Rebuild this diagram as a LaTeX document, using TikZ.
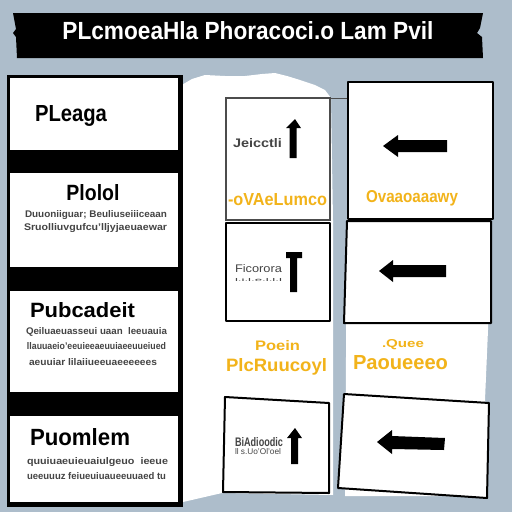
\documentclass[tikz,border=0pt]{standalone}
\usepackage{fontspec}
\setmainfont{Liberation Sans}
\usepackage{graphicx}
\definecolor{bgray}{HTML}{ADBDCB}
\definecolor{gold}{HTML}{F2B31A}
\definecolor{gtext}{HTML}{444444}
\newcommand{\fitbox}[3]{\resizebox{#1}{#2}{#3}}
\begin{document}
\begin{tikzpicture}[x=1pt,y=-1pt,
  panel/.style={draw=black,line width=2pt,fill=white,line join=round},
  thinpanel/.style={draw=black!70,line width=1.2pt,fill=white},
  txt/.style={inner sep=0pt,outer sep=0pt,anchor=west},
  ytxt/.style={inner sep=0pt,outer sep=0pt,anchor=west,text=gold},
  icon/.style={fill=black,draw=none}]
\useasboundingbox (0,0) rectangle (512,512);
\fill[bgray] (0,0) rectangle (512,512);
% paper backdrop
\fill[white] (180,86) -- (192,79) -- (205,75) -- (225,76) -- (245,76) -- (262,74) -- (275,73) -- (287,76) -- (300,80) -- (315,85) -- (325,90) -- (331,98) -- (333,220) -- (333,495) -- (222,493) -- (183,502) -- cycle;
\fill[white] (347,218) -- (490,218) -- (488,330) -- (485,400) -- (487,496) -- (345,496) -- cycle;
% title ribbon
\fill[black] (13,13) -- (483,13) -- (480,28) -- (477,33) -- (482,37) -- (483,58) -- (17,58) -- (16,37) -- (13,33) -- (16,29) -- cycle;
\node[inner sep=0pt,text=white] (title) at (248,31) {\fitbox{371pt}{18pt}{\bfseries PLcmoeaHla Phoracoci.o Lam Pvil}};
% left column
\fill[black] (7,75) rectangle (183,507);
\fill[white] (10,78) rectangle (178,150);
\fill[white] (10,173) rectangle (178,267);
\fill[white] (10,291) rectangle (178,392);
\fill[white] (10,416) rectangle (178,502);
\node[txt] (t1) at (35,116) {\fitbox{72pt}{16pt}{\bfseries PLeaga}};
\node[inner sep=0pt] (t2) at (93,193) {\fitbox{53pt}{16pt}{\bfseries Plolol}};
\node[txt,text=gtext] (t2a) at (25,215) {\fitbox{142pt}{7pt}{\bfseries Duuoniiguar; Beuliuseiiiceaan}};
\node[txt,text=gtext] (t2b) at (24,228) {\fitbox{143pt}{7pt}{\bfseries Sruolliuvgufcu'lljyjaeuaewar}};
\node[txt] (t3) at (30,310) {\fitbox{105pt}{15pt}{\bfseries Pubcadeit}};
\node[txt,text=gtext] (t3a) at (26,332) {\fitbox{141pt}{7pt}{\bfseries Qeiluaeuasseui uaan \ leeuauia}};
\node[txt,text=gtext] (t3b) at (27,346) {\fitbox{139pt}{7pt}{\bfseries llauuaeio'eeuieeaeuuiaeeuueiued}};
\node[txt,text=gtext] (t3c) at (29,362) {\fitbox{128pt}{7pt}{\bfseries aeuuiar lilaiiueeuaeeeeees}};
\node[txt] (t4) at (30,437) {\fitbox{100pt}{17pt}{\bfseries Puomlem}};
\node[txt,text=gtext] (t4a) at (27,462) {\fitbox{141pt}{7pt}{\bfseries quuiuaeuieuaiulgeuo \ ieeue}};
\node[txt,text=gtext] (t4b) at (27,476) {\fitbox{139pt}{7pt}{\bfseries ueeuuuz feiueuiuaueeuuaed tu}};
% middle column boxes
\draw[thinpanel] (226,98) rectangle (330,220);
\draw[black!70,line width=1pt] (330,98) -- (348,98);
\draw[panel] (226,223) rectangle (330,321);
\draw[panel] (225,397) -- (329,403) -- (329,493) -- (223,492) -- cycle;
% right column boxes
\draw[panel] (348,82) rectangle (493,219);
\draw[panel] (347,221) -- (491,221) -- (491,323) -- (344,323) -- cycle;
\draw[panel] (344,394) -- (489,403) -- (487,498) -- (338,488) -- cycle;
% up arrows
\fill[icon] (295,119) -- (301,128) -- (296.5,128) -- (296.5,158) -- (289.5,158) -- (289.5,128) -- (286,128) -- cycle;
\fill[icon] (286,252) -- (302,252) -- (302,258) -- (297,258) -- (297,292) -- (290,292) -- (290,258) -- (286,258) -- cycle;
\fill[icon] (295,428) -- (302,438) -- (298,438) -- (298,464) -- (291,464) -- (291,438) -- (287,438) -- cycle;
% left arrows
\fill[icon] (383,146) -- (398,135) -- (398,140) -- (447,140) -- (447,152) -- (398,152) -- (398,157) -- cycle;
\fill[icon] (379,271) -- (393,260) -- (393,265) -- (446,265) -- (446,277) -- (393,277) -- (393,282) -- cycle;
\fill[icon] (377,442) -- (392,430) -- (392,436) -- (445,438) -- (444,450) -- (392,449) -- (392,454) -- cycle;
% small texts in middle boxes
\node[txt,text=gtext] (sa) at (233,143) {\fitbox{49pt}{9pt}{\bfseries Jeicctli}};
\node[txt,text=gtext] (sb1) at (235,269) {\fitbox{47pt}{8pt}{Ficorora}};
\node[txt,text=gtext] (sb2) at (235,280) {\fitbox{47pt}{3pt}{l.i.l.e.l.l.l}};
\node[txt,text=gtext] (sc1) at (235,442) {\fitbox{48pt}{9pt}{\bfseries BiAdioodic}};
\node[txt,text=gtext] (sc2) at (235,452) {\fitbox{46pt}{6pt}{ll s.Uo'Ol'oel}};
% yellow texts
\node[ytxt] (ya) at (228,200) {\fitbox{99pt}{12pt}{\bfseries -oVAeLumco}};
\node[ytxt] (yd) at (366,198) {\fitbox{92pt}{12pt}{\bfseries Ovaaoaaawy}};
\node[ytxt] (ym1) at (255,346) {\fitbox{45pt}{10pt}{\bfseries Poein}};
\node[ytxt] (ym2) at (226,367) {\fitbox{101pt}{13pt}{\bfseries PlcRuucoyl}};
\node[ytxt] (yr1) at (382,345) {\fitbox{42pt}{8pt}{\bfseries .Quee}};
\node[ytxt] (yr2) at (353,363) {\fitbox{95pt}{14pt}{\bfseries Paoueeeo}};
\end{tikzpicture}
\end{document}
